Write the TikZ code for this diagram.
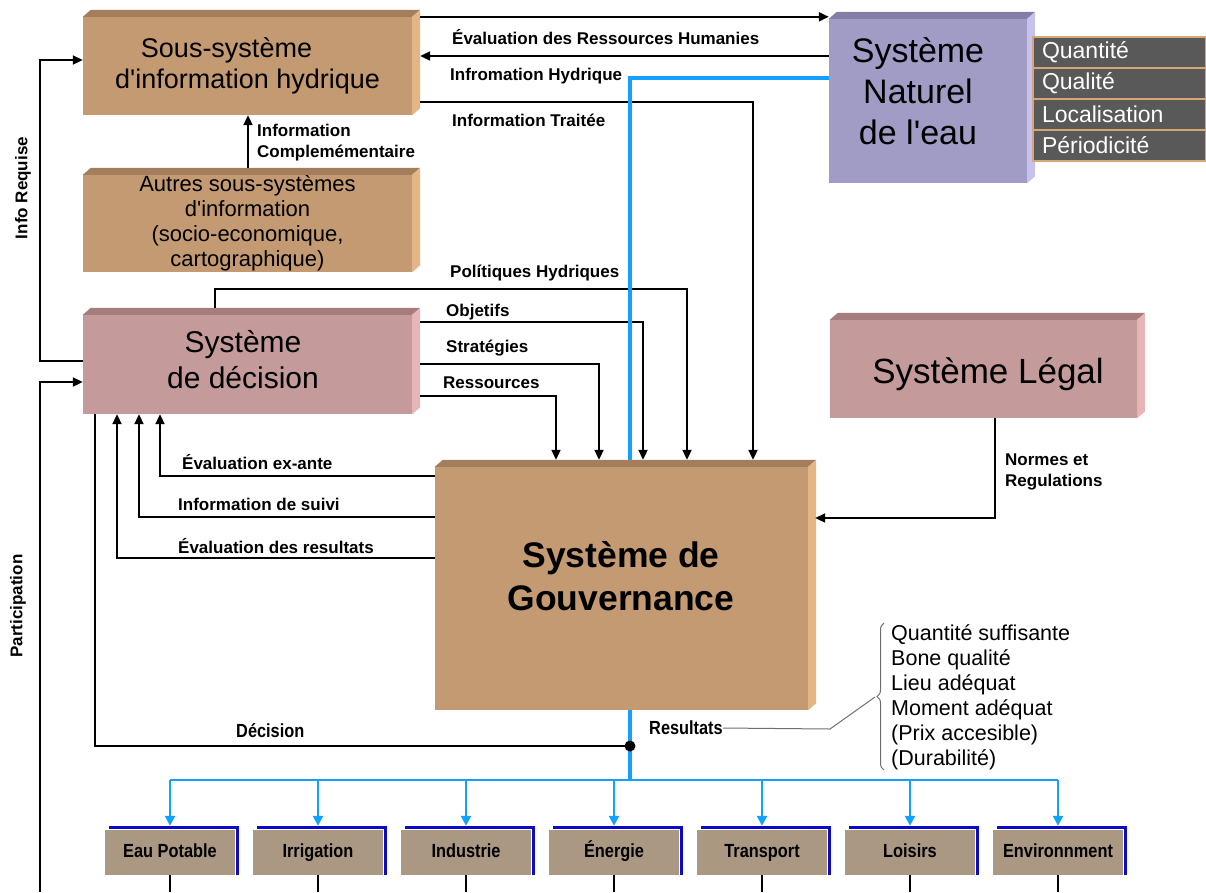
\documentclass[tikz,border=0pt]{standalone}
\usepackage{fontspec}
\setmainfont{Liberation Sans}
\newfontfamily\etroite[FakeStretch=0.86]{Liberation Sans}
\usetikzlibrary{arrows.meta,decorations.pathreplacing}

\definecolor{brun}{RGB}{196,154,114}
\definecolor{brunHaut}{RGB}{164,126,92}
\definecolor{brunCote}{RGB}{228,182,134}
\definecolor{rose}{RGB}{196,154,154}
\definecolor{roseHaut}{RGB}{166,124,124}
\definecolor{roseCote}{RGB}{230,182,182}
\definecolor{mauve}{RGB}{160,156,198}
\definecolor{mauveHaut}{RGB}{130,126,166}
\definecolor{mauveCote}{RGB}{198,194,238}
\definecolor{gris}{RGB}{89,89,89}
\definecolor{bord}{RGB}{214,166,118}
\definecolor{secteur}{RGB}{170,152,130}
\definecolor{bleu}{RGB}{20,160,255}
\definecolor{bleuFonce}{RGB}{10,10,200}
\definecolor{accolade}{RGB}{110,110,110}

\newcommand{\relief}[3]{%
        \fill[#2] (#1.north west) -- ++(8,-7) -- ([shift={(8,-7)}]#1.north east) -- (#1.north east) -- cycle;
        \fill[#3] (#1.north east) -- ++(8,-7) -- ([shift={(8,-7)}]#1.south east) -- (#1.south east) -- cycle;}
\newcommand{\apo}{\textquotesingle}

\tikzset{
        boite/.style={fill=#1, inner sep=0pt, align=center},
        etiq/.style={font=\bfseries\fontsize{17}{21}\selectfont, anchor=west, inner sep=0pt, align=left},
        etroit/.style={font=\etroite\bfseries\fontsize{19}{22}\selectfont, inner sep=0pt},
        fleche/.style={line width=2pt, -{Triangle[length=10pt,width=9pt]}},
        trait/.style={line width=2pt},
        flux/.style={bleu, line width=3.5pt},
        fluxfin/.style={bleu, line width=2.4pt},
        secteurbox/.style={fill=secteur, minimum width=130pt, minimum height=45pt, text height=14pt, text depth=4pt, font=\etroite\bfseries\fontsize{19}{22}\selectfont},
        attribut/.style={fill=gris, draw=bord, line width=1.2pt, text=white, minimum height=31pt, text width=155pt, inner xsep=9pt, inner ysep=0pt, align=left, font=\fontsize{23}{26}\selectfont}
}

\begin{document}
\begin{tikzpicture}[x=1pt, y=-1pt]
        \useasboundingbox (0,0) rectangle (1206,892);

        \node[boite=brun, minimum width=329pt, minimum height=98pt, font=\fontsize{27}{31}\selectfont] (shi) at (247.5,66) {Sous-système\hspace*{42pt}\\d\apo information hydrique};
        \node[boite=brun, minimum width=329pt, minimum height=97pt, font=\fontsize{22}{25}\selectfont] (autres) at (247.5,223.5) {Autres sous-systèmes\\d\apo information\\(socio-economique,\\cartographique)};
        \node[boite=rose, minimum width=329pt, minimum height=99pt] (dec) at (247.5,364.5) {};
        \node[boite=mauve, minimum width=198pt, minimum height=164pt] (nat) at (928,101) {};
        \node[boite=rose, minimum width=307pt, minimum height=98pt] (leg) at (983.5,369) {};
        \node[boite=brun, minimum width=373pt, minimum height=243pt] (gov) at (621.5,588.5) {};
        \relief{shi}{brunHaut}{brunCote}
        \relief{autres}{brunHaut}{brunCote}
        \relief{dec}{roseHaut}{roseCote}
        \relief{nat}{mauveHaut}{mauveCote}
        \relief{leg}{roseHaut}{roseCote}
        \relief{gov}{brunHaut}{brunCote}
        \node[align=center, font=\fontsize{30}{36}\selectfont] (decT) at (243,360) {Système\\de décision};
        \node[align=center, font=\fontsize{34}{41}\selectfont] (natT) at (918,91.5) {Système\\Naturel\\de l\apo eau};
        \node[font=\fontsize{35}{40}\selectfont] (legT) at (988,374) {Système Légal};
        \node[align=center, font=\bfseries\fontsize{35.5}{43}\selectfont] (govT) at (621,576.5) {Système de\\Gouvernance};

        \foreach \t [count=\i] in {Quantité,Qualité,Localisation,Périodicité}
                \node[attribut] (att\i) at (1119.5,{52.5+31*(\i-1)}) {\t};

        \foreach \t [count=\i] in {Eau Potable,Irrigation,Industrie,Énergie,Transport,Loisirs,Environnment} {
                \node[secteurbox] (s\i) at ({170+148*(\i-1)},852.5) {\t};
                \draw[bleuFonce, line width=3pt] ([xshift=2pt]s\i.south east) -- ([shift={(2,-2)}]s\i.north east) -- ([shift={(4,-2)}]s\i.north west);
        }

        \coordinate (shiCote) at ([xshift=8pt]shi.east);
        \coordinate (decCote) at ([xshift=8pt]dec.east);
        \coordinate (decHaut) at ([yshift=7pt]dec.north);
        \coordinate (autresHaut) at ([yshift=7pt]autres.north);
        \coordinate (govHaut) at ([yshift=7pt]gov.north);
        \coordinate (govCote) at ([xshift=7pt]gov.east);
        \coordinate (jonction) at (630,746);

        \draw[fleche] ([xshift=8pt]shi.north east) -- (nat.west |- shi.north);
        \draw[fleche] (nat.west |- 0,56) -- (shiCote |- 0,56);
        \draw[fleche] (shiCote |- 0,102) -- (753,102) -- (govHaut -| 753,0);
        \draw[fleche] (autresHaut -| 248,0) -- (shi.south -| 248,0);

        \draw[fleche] (decHaut -| 215,0) -- (215,289) -- (687,289) -- (govHaut -| 687,0);
        \draw[fleche] (decCote |- 0,322) -- (643,322) -- (govHaut -| 643,0);
        \draw[fleche] (decCote |- 0,364) -- (599,364) -- (govHaut -| 599,0);
        \draw[fleche] (decCote |- 0,396) -- (556,396) -- (govHaut -| 556,0);

        \draw[fleche] (gov.west |- 0,476) -- (160,476) -- (dec.south -| 160,0);
        \draw[fleche] (gov.west |- 0,517) -- (139,517) -- (dec.south -| 139,0);
        \draw[fleche] (gov.west |- 0,558) -- (117,558) -- (dec.south -| 117,0);

        \draw[fleche] (dec.west |- 0,361) -- (40,361) -- (40,60) -- (shi.west |- 0,60);
        \draw[fleche] (40,892) -- (40,382) -- (dec.west |- 0,382);
        \draw[fleche] (leg.south -| 995,0) -- (995,518) -- (govCote |- 0,518);
        \draw[trait] (dec.south -| 95,0) -- (95,746) -- (jonction);

        \draw[flux] (nat.west |- 0,78) -- (630,78) -- (govHaut -| 630,0);
        \draw[flux] (gov.south -| 630,0) -- (630,781);
        \draw[fluxfin] (s1 |- 0,780) -- (s7 |- 0,780);
        \foreach \i in {1,...,7} {
                \draw[fluxfin, -{Triangle[length=10pt,width=10pt]}] (s\i |- 0,780) -- ([yshift=4pt]s\i.north);
                \draw[trait] (s\i.south) -- (s\i.south |- 0,892);
        }
        \fill (jonction) circle (5.5pt);

        \node[etiq] (lerh) at (452,37) {Évaluation des Ressources Humanies};
        \node[etiq] (lih) at (450,76) {Infromation Hydrique};
        \node[etiq] (lit) at (452,120) {Information Traitée};
        \node[etiq] (lic) at (257,142.5) {Information\\Complemémentaire};
        \node[etiq] (lph) at (450,273) {Polítiques Hydriques};
        \node[etiq] (lobj) at (446,312) {Objetifs};
        \node[etiq] (lstr) at (446,348) {Stratégies};
        \node[etiq] (lres) at (443,383) {Ressources};
        \node[etiq] (lea) at (182,462) {Évaluation ex-ante};
        \node[etiq] (lsuivi) at (178,504) {Information de suivi};
        \node[etiq] (levr) at (178,546) {Évaluation des resultats};
        \node[etiq] (lnr) at (1005,471.5) {Normes et\\Regulations};
        \node[etiq, anchor=center, rotate=90] (lir) at (23,188) {Info Requise};
        \node[etiq, anchor=center, rotate=90] (lpart) at (18,606) {Participation};
        \node[etroit, anchor=west] (ldec) at (236,731) {Décision};
        \node[etroit, anchor=west] (lresu) at (649,728) {Resultats};

        \draw[accolade, line width=1pt] (lresu.east) -- (830,729) -- (875,697);
        \draw[accolade, line width=1pt, decorate, decoration={brace, amplitude=7pt}] (884,770) -- (884,623);
        \node[anchor=west, align=left, inner sep=0pt, font=\fontsize{21.5}{25}\selectfont] (qualites) at (891,697.5) {Quantité suffisante\\Bone qualité\\Lieu adéquat\\Moment adéquat\\(Prix accesible)\\(Durabilité)};
\end{tikzpicture}
\end{document}
